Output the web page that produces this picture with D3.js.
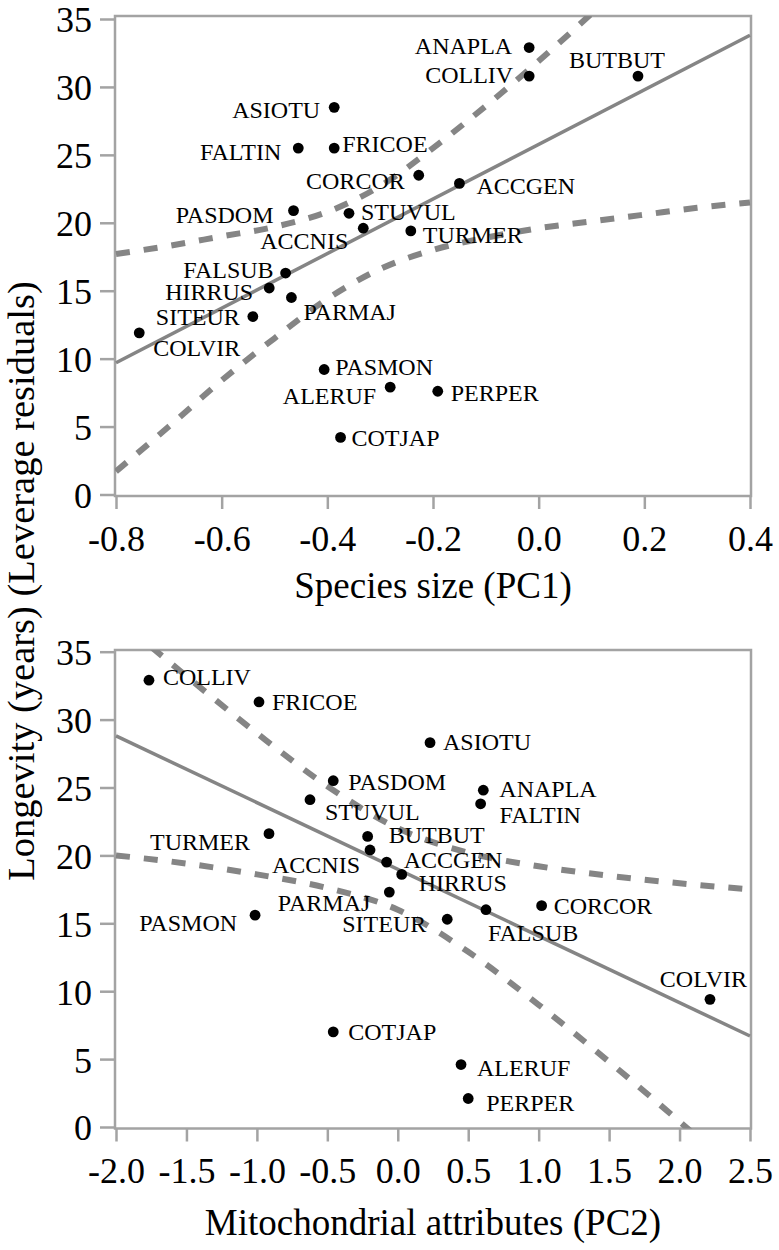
<!DOCTYPE html>
<html>
<head>
<meta charset="utf-8">
<script src="https://cdn.jsdelivr.net/npm/d3@7/dist/d3.min.js"></script>
<style>
  body { margin: 0; background: #fff; }
  svg { display: block; }
  text { font-family: "Liberation Serif", "Times New Roman", serif; fill: #000; }
</style>
</head>
<body>
<script>
// ---------------- DATA ----------------
// Panel 1: Species size (PC1) vs longevity (leverage residuals)
const species1 = ["ANAPLA","COLLIV","BUTBUT","ASIOTU","FALTIN","FRICOE","CORCOR","ACCGEN","PASDOM","STUVUL","ACCNIS","TURMER","FALSUB","HIRRUS","PARMAJ","SITEUR","COLVIR","PASMON","ALERUF","PERPER","COTJAP"];
const pc1 = [-0.018,-0.018,0.188,-0.387,-0.455,-0.387,-0.227,-0.150,-0.464,-0.359,-0.332,-0.242,-0.479,-0.510,-0.468,-0.541,-0.756,-0.406,-0.281,-0.191,-0.375];
const longevity1 = [32.9,30.8,30.8,28.5,25.5,25.5,23.5,22.9,20.9,20.7,19.6,19.4,16.3,15.2,14.5,13.1,11.9,9.2,7.9,7.6,4.2];

const fit1X = [-0.8, 0.4];
const fit1Y = [9.7, 33.8];
const upper1X = [-0.8,-0.7,-0.6,-0.5,-0.4,-0.3,-0.2,-0.1,0.0,0.1];
const upper1Y = [17.7,18.3,19.0,19.7,20.8,22.7,25.5,28.6,31.9,35.4];
const lower1X = [-0.8,-0.7,-0.6,-0.5,-0.4,-0.3,-0.2,-0.1,0.0,0.1,0.2,0.3,0.4];
const lower1Y = [1.7,5.0,8.4,11.5,14.4,16.6,18.0,18.9,19.6,20.1,20.6,21.1,21.5];

const xTicks1 = [-0.8,-0.6,-0.4,-0.2,0.0,0.2,0.4];
const yTicks = [0,5,10,15,20,25,30,35];

// Panel 2: Mitochondrial attributes (PC2) vs longevity
const species2 = ["COLLIV","FRICOE","ASIOTU","PASDOM","ANAPLA","STUVUL","FALTIN","TURMER","BUTBUT","ACCNIS","ACCGEN","HIRRUS","PARMAJ","SITEUR","FALSUB","CORCOR","PASMON","COLVIR","COTJAP","ALERUF","PERPER"];
const pc2 = [-1.766,-0.985,0.229,-0.458,0.607,-0.623,0.588,-0.914,-0.214,-0.197,-0.079,0.028,-0.060,0.351,0.626,1.021,-1.013,2.216,-0.458,0.449,0.500];
const longevity2 = [32.9,31.3,28.3,25.5,24.8,24.1,23.8,21.6,21.4,20.4,19.5,18.6,17.3,15.3,16.0,16.3,15.6,9.4,7.0,4.6,2.1];

const fit2X = [-2.0, 2.5];
const fit2Y = [28.8, 6.7];
const upper2X = [-1.75,-1.5,-1.0,-0.5,0.0,0.5,1.0,1.5,2.0,2.5];
const upper2Y = [35.35,33.2,29.0,25.1,22.0,20.2,19.2,18.5,17.95,17.5];
const lower2X = [-2.0,-1.5,-1.0,-0.5,0.0,0.5,1.0,1.5,2.0,2.1];
const lower2Y = [20.0,19.4,18.6,17.6,16.0,12.9,9.0,4.8,0.4,-0.5];

const xTicks2 = [-2.0,-1.5,-1.0,-0.5,0.0,0.5,1.0,1.5,2.0,2.5];

// ---------------- LAYOUT (label placement: anchor, dx, dy in px) ----------------
const labelPos1 = {
  ANAPLA:["e",-17,6], COLLIV:["e",-16,7], BUTBUT:["s",-69,-8], ASIOTU:["e",-14,11],
  FALTIN:["e",-17,12], FRICOE:["s",8,4], CORCOR:["e",-14,14], ACCGEN:["s",17,11],
  PASDOM:["e",-20,12], STUVUL:["s",12,7], ACCNIS:["e",-15,21], TURMER:["s",12,12],
  FALSUB:["e",-12,5], HIRRUS:["e",-16,12], PARMAJ:["s",12,22], SITEUR:["e",-13,8],
  COLVIR:["s",14,23], PASMON:["s",11,5], ALERUF:["e",-14,17], PERPER:["s",13,10],
  COTJAP:["s",11,9]
};
const labelPos2 = {
  COLLIV:["s",14,5], FRICOE:["s",13,8], ASIOTU:["s",13,7], PASDOM:["s",15,9],
  ANAPLA:["s",16,7], STUVUL:["s",15,20], FALTIN:["s",19,19], TURMER:["e",-19,16],
  BUTBUT:["s",21,7], ACCNIS:["e",-10,23], ACCGEN:["s",17,6], HIRRUS:["s",17,17],
  PARMAJ:["e",-19,19], SITEUR:["e",-21,13], FALSUB:["s",2,31], CORCOR:["s",12,8],
  PASMON:["e",-18,16], COLVIR:["e",37,-12], COTJAP:["s",15,8], ALERUF:["s",16,11],
  PERPER:["s",18,13]
};

const W = 779, H = 1250;
const AXIS_COLOR = "#a3a3a3";
const LINE_COLOR = "#858585";

const svg = d3.select("body").append("svg").attr("width", W).attr("height", H);

function panel(opts) {
  const g = svg.append("g");
  const x = d3.scaleLinear().domain(opts.xDomain).range([116, 750]);
  const y = d3.scaleLinear().domain([0, 35]).range([opts.y0, opts.y35]);

  const clipId = opts.id + "-clip";
  svg.append("clipPath").attr("id", clipId)
    .append("rect").attr("x", 115).attr("y", opts.top)
    .attr("width", 751 - 115).attr("height", opts.bottom - opts.top);

  // Frame
  g.append("rect")
    .attr("x", 115).attr("y", opts.top)
    .attr("width", 751 - 115).attr("height", opts.bottom - opts.top)
    .attr("fill", "none").attr("stroke", AXIS_COLOR).attr("stroke-width", 2.5);

  // Axes
  const ax = g.append("g").attr("transform", `translate(0,${opts.bottom})`)
    .call(d3.axisBottom(x).tickValues(opts.xTicks).tickSize(13).tickPadding(16)
      .tickFormat(d => d.toFixed(1)));
  const ay = g.append("g").attr("transform", `translate(115,0)`)
    .call(d3.axisLeft(y).tickValues(yTicks).tickSize(15).tickPadding(8)
      .tickFormat(d => String(d)));
  [ax, ay].forEach(a => {
    a.select(".domain").remove();
    a.selectAll(".tick line").attr("stroke", AXIS_COLOR).attr("stroke-width", 2.5);
    a.selectAll(".tick text").attr("font-size", 36).attr("fill", "#000")
      .style("font-family", '"Liberation Serif", "Times New Roman", serif');
  });
  ay.selectAll(".tick text").attr("dy", "0.36em");

  const plot = g.append("g").attr("clip-path", `url(#${clipId})`);
  const line = d3.line().x(d => x(d[0])).y(d => y(d[1]));
  const curve = d3.line().x(d => x(d[0])).y(d => y(d[1])).curve(d3.curveMonotoneX);

  plot.append("path").datum(d3.zip(opts.upperX, opts.upperY))
    .attr("d", curve).attr("fill", "none").attr("stroke", LINE_COLOR)
    .attr("stroke-width", 6).attr("stroke-dasharray", "14,14");
  plot.append("path").datum(d3.zip(opts.lowerX, opts.lowerY))
    .attr("d", curve).attr("fill", "none").attr("stroke", LINE_COLOR)
    .attr("stroke-width", 6).attr("stroke-dasharray", "14,14");
  plot.append("path").datum(d3.zip(opts.fitX, opts.fitY))
    .attr("d", line).attr("fill", "none").attr("stroke", LINE_COLOR)
    .attr("stroke-width", 3.5);

  const pts = opts.species.map((s, i) => ({ s, x: opts.xs[i], y: opts.ys[i] }));
  g.selectAll("circle.pt").data(pts).join("circle").attr("class", "pt")
    .attr("cx", d => x(d.x)).attr("cy", d => y(d.y)).attr("r", 5.4).attr("fill", "#000");
  g.selectAll("text.lbl").data(pts).join("text").attr("class", "lbl")
    .attr("x", d => x(d.x) + opts.labels[d.s][1])
    .attr("y", d => y(d.y) + opts.labels[d.s][2])
    .attr("text-anchor", d => opts.labels[d.s][0] === "e" ? "end" : "start")
    .attr("font-size", 24)
    .text(d => d.s);

  g.append("text").attr("x", 433).attr("y", opts.titleY)
    .attr("text-anchor", "middle").attr("font-size", 37).text(opts.title);
}

panel({
  id: "p1", xDomain: [-0.8, 0.4], xTicks: xTicks1,
  top: 16, bottom: 496, y0: 494.5, y35: 19,
  species: species1, xs: pc1, ys: longevity1, labels: labelPos1,
  fitX: fit1X, fitY: fit1Y, upperX: upper1X, upperY: upper1Y, lowerX: lower1X, lowerY: lower1Y,
  title: "Species size (PC1)", titleY: 598
});
panel({
  id: "p2", xDomain: [-2.0, 2.5], xTicks: xTicks2,
  top: 650, bottom: 1128.5, y0: 1127, y35: 651.7,
  species: species2, xs: pc2, ys: longevity2, labels: labelPos2,
  fitX: fit2X, fitY: fit2Y, upperX: upper2X, upperY: upper2Y, lowerX: lower2X, lowerY: lower2Y,
  title: "Mitochondrial attributes (PC2)", titleY: 1235
});

// Shared y-axis title
svg.append("text")
  .attr("transform", "translate(34,581) rotate(-90)")
  .attr("text-anchor", "middle").attr("font-size", 38.5)
  .text("Longevity (years) (Leverage residuals)");
</script>
</body>
</html>
